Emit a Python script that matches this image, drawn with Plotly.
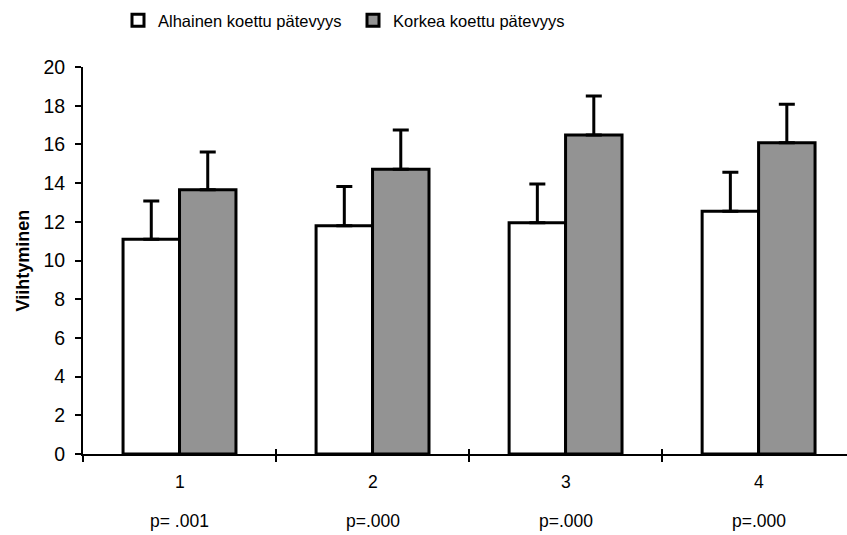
import plotly.graph_objects as go

# Mean scores per measurement point, low vs high perceived competence
categories = ["1", "2", "3", "4"]
p_values = ["p= .001", "p=.000", "p=.000", "p=.000"]
low_means = [11.1, 11.8, 11.95, 12.55]
low_sd = [1.98, 2.02, 2.0, 2.01]
high_means = [13.65, 14.72, 16.48, 16.08]
high_sd = [1.96, 2.02, 2.02, 2.0]
series_names = ["Alhainen koettu pätevyys", "Korkea koettu pätevyys"]
y_ticks = list(range(0, 21, 2))

FONT = "Liberation Sans, Arial, sans-serif"
x_pos = list(range(len(categories)))
PLOT_LEFT, PLOT_W = 83, 764

fig = go.Figure()

fig.add_trace(go.Bar(
    x=x_pos, y=low_means, name=series_names[0],
    marker=dict(color="white", line=dict(color="black", width=3)),
    error_y=dict(type="data", array=low_sd, arrayminus=[0] * 4,
                 color="black", thickness=3, width=8),
))
fig.add_trace(go.Bar(
    x=x_pos, y=high_means, name=series_names[1],
    marker=dict(color="#949494", line=dict(color="black", width=3),
                pattern=dict(shape=".", size=2, solidity=0.5,
                             fgcolor="#5e5e5e", bgcolor="#bcbcbc",
                             fillmode="replace")),
    error_y=dict(type="data", array=high_sd, arrayminus=[0] * 4,
                 color="black", thickness=3, width=8),
))

x_range = [-0.5, 3.458]
boundaries = [i - 0.5 for i in range(len(categories))]

# invisible trace on the overlay axis so the inner tick marks get drawn
fig.add_trace(go.Scatter(x=x_range, y=[0, 0], xaxis="x2",
                         mode="lines", line=dict(width=0),
                         showlegend=False, hoverinfo="skip"))

fig.update_layout(
    width=847, height=535,
    margin=dict(l=PLOT_LEFT, r=0, t=67, b=81),
    paper_bgcolor="white", plot_bgcolor="white",
    barmode="group", bargap=0.415, bargroupgap=0,
    font=dict(family=FONT, color="black", size=16),
    showlegend=True,
    legend=dict(orientation="h", x=(118 - PLOT_LEFT) / PLOT_W, xanchor="left",
                y=1 - 3 / 535, yref="container", yanchor="top",
                font=dict(size=16.5, family=FONT), entrywidth=190,
                itemwidth=30, traceorder="normal",
                bgcolor="rgba(0,0,0,0)"),
    xaxis=dict(range=x_range, tickvals=boundaries, ticktext=[""] * 4,
               ticks="outside", ticklen=6, tickwidth=1.5, tickcolor="black",
               showline=True, linecolor="black", linewidth=2,
               showgrid=False, zeroline=False, fixedrange=True),
    xaxis2=dict(range=x_range, overlaying="x", anchor="y",
                tickvals=boundaries, ticktext=[""] * 4,
                ticks="inside", ticklen=5, tickwidth=1.5, tickcolor="black",
                showline=False, showgrid=False, zeroline=False,
                side="bottom", showticklabels=False),
    yaxis=dict(range=[0, 20], tickvals=y_ticks,
               ticks="outside", ticklen=6, tickwidth=1.5, tickcolor="black",
               showline=True, linecolor="black", linewidth=2,
               showgrid=False, zeroline=False, ticklabelstandoff=6,
               tickfont=dict(size=19.5, family=FONT)),
)

annotations = []
for xi, cat, pv in zip(x_pos, categories, p_values):
    annotations.append(dict(x=xi, y=0, xref="x", yref="paper", text=cat,
                            showarrow=False, yanchor="middle", yshift=-28,
                            font=dict(size=17.5, family=FONT)))
    annotations.append(dict(x=xi, y=0, xref="x", yref="paper", text=pv,
                            showarrow=False, yanchor="middle", yshift=-67,
                            font=dict(size=17.5, family=FONT)))
annotations.append(dict(x=-(PLOT_LEFT - 22) / PLOT_W, y=0.5,
                        xref="paper", yref="paper",
                        text="<b>Viihtyminen</b>", textangle=-90,
                        showarrow=False, xanchor="center", yanchor="middle",
                        font=dict(size=18, family=FONT)))
fig.update_layout(annotations=annotations)

fig.write_html("out.html")
